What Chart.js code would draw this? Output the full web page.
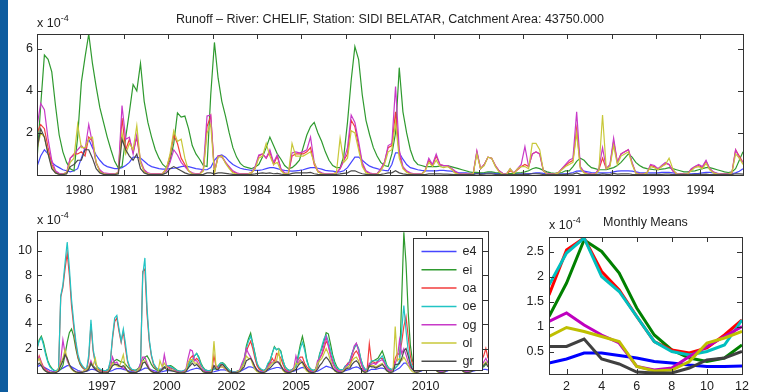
<!DOCTYPE html>
<html>
<head>
<meta charset="utf-8">
<script src="https://cdn.jsdelivr.net/npm/chart.js@4.4.0/dist/chart.umd.min.js"></script>
<style>
  body { margin: 0; background: #fff; width: 757px; height: 392px; overflow: hidden; position: relative;
         font-family: "Liberation Sans", Arial, sans-serif; color: #222; }
  .bar { position: absolute; left: 0; top: 0; width: 8px; height: 392px; background: #0d5c9f; }
  canvas { position: absolute; }
  .lbl { position: absolute; font-size: 12.5px; line-height: 14px; white-space: nowrap; }
  .lbl sup { font-size: 9px; vertical-align: 6px; line-height: 0; }
</style>
</head>
<body>
<div class="bar"></div>
<canvas id="topChart" width="757" height="200" style="left:0;top:0"></canvas>
<canvas id="histChart" width="500" height="197" style="left:0;top:195px"></canvas>
<canvas id="meanChart" width="257" height="197" style="left:500px;top:195px"></canvas>
<div class="lbl" style="left:0;width:780px;top:12px;text-align:center">Runoff &ndash; River: CHELIF, Station: SIDI BELATAR, Catchment Area: 43750.000</div>
<div class="lbl" style="left:37px;top:16px">x 10<sup>-4</sup></div>
<div class="lbl" style="left:37px;top:213px">x 10<sup>-4</sup></div>
<div class="lbl" style="left:549px;top:218px">x 10<sup>-4</sup></div>
<div class="lbl" style="left:545px;width:201px;top:215px;text-align:center">Monthly Means</div>
<script>
// series order as in the legend
const seriesNames = ['e4', 'ei', 'oa', 'oe', 'og', 'ol', 'gr'];
const seriesColors = ['#0000ff', '#008000', '#ff0000', '#00bfbf', '#bf00bf', '#bfbf00', '#404040'];
// thin time-series lines look a little paler in the original
const thinColors = ['#4646ff', '#2f9a2f', '#f23c3c', '#22c4c4', '#c83ac8', '#c8c83a', '#4a4a4a'];

// ---- top panel: monthly runoff 1979-1994 (x 1e-4), one row per year ----
const topFirstYear = 1979;
const topTickYears = [1980, 1981, 1982, 1983, 1984, 1985, 1986, 1987, 1988, 1989, 1990, 1991, 1992, 1993, 1994];
const topTickLabels = ['1980', '1981', '1982', '1983', '1984', '1985', '1986', '1987', '1988', '1989', '1990', '1991', '1992', '1993', '1994'];
const topYTicks = [2, 4, 6];

const top_e4 = [
  [0.4, 0.9, 1.2, 1.0, 0.6, 0.45, 0.35, 0.25, 0.2, 0.15, 0.2, 0.3],
  [0.8, 1.3, 1.7, 1.3, 0.95, 0.7, 0.5, 0.4, 0.35, 0.3, 0.3, 0.35],
  [0.45, 0.6, 0.85, 0.85, 0.8, 0.65, 0.5, 0.4, 0.35, 0.3, 0.28, 0.28],
  [0.3, 0.32, 0.35, 0.4, 0.42, 0.4, 0.35, 0.3, 0.28, 0.25, 0.25, 0.35],
  [0.7, 0.9, 0.95, 0.85, 0.65, 0.5, 0.4, 0.32, 0.28, 0.25, 0.22, 0.22],
  [0.22, 0.25, 0.3, 0.35, 0.35, 0.3, 0.25, 0.22, 0.2, 0.18, 0.2, 0.22],
  [0.25, 0.3, 0.35, 0.35, 0.32, 0.28, 0.22, 0.2, 0.18, 0.15, 0.15, 0.2],
  [0.35, 0.6, 0.85, 0.85, 0.7, 0.55, 0.42, 0.35, 0.3, 0.25, 0.22, 0.2],
  [0.5, 1.05, 1.05, 0.75, 0.5, 0.35, 0.3, 0.25, 0.22, 0.2, 0.2, 0.2],
  [0.2, 0.22, 0.22, 0.2, 0.18, 0.15, 0.12, 0.1, 0.1, 0.08, 0.08, 0.08],
  [0.08, 0.08, 0.1, 0.1, 0.08, 0.07, 0.06, 0.05, 0.05, 0.05, 0.05, 0.06],
  [0.06, 0.07, 0.08, 0.1, 0.1, 0.08, 0.06, 0.05, 0.05, 0.05, 0.05, 0.06],
  [0.08, 0.12, 0.18, 0.2, 0.18, 0.15, 0.12, 0.1, 0.1, 0.1, 0.1, 0.12],
  [0.15, 0.18, 0.2, 0.2, 0.2, 0.18, 0.15, 0.12, 0.1, 0.1, 0.1, 0.1],
  [0.1, 0.12, 0.12, 0.12, 0.1, 0.08, 0.07, 0.06, 0.06, 0.06, 0.07, 0.08],
  [0.1, 0.12, 0.12, 0.1, 0.08, 0.06, 0.05, 0.05, 0.06, 0.1, 0.18, 0.3]
];
const top_ei = [
  [0.7, 3.3, 5.7, 5.5, 4.9, 3.3, 1.9, 1.1, 0.6, 0.3, 0.2, 1.8],
  [4.4, 5.6, 6.7, 5.3, 4.2, 3.2, 2.5, 1.8, 1.2, 0.65, 0.33, 0.4],
  [1.8, 3.0, 4.3, 4.0, 5.3, 3.5, 2.5, 1.8, 1.2, 0.8, 0.5, 0.35],
  [0.7, 1.5, 2.95, 2.75, 2.8, 2.2, 1.4, 1.0, 0.75, 0.45, 0.4, 3.8],
  [6.3, 4.6, 3.5, 2.8, 2.0, 1.3, 0.85, 0.55, 0.4, 0.35, 0.3, 0.38],
  [0.5, 0.85, 1.3, 1.8, 1.4, 1.0, 0.75, 0.45, 0.3, 0.35, 0.5, 0.7],
  [1.3, 1.9, 2.3, 2.5, 2.0, 1.6, 1.1, 0.7, 0.45, 0.35, 0.35, 0.9],
  [2.5, 4.5, 6.1, 5.5, 3.8, 2.6, 1.9, 1.3, 0.9, 0.6, 0.45, 0.4],
  [1.0, 2.0, 5.1, 3.0, 2.0, 1.2, 0.7, 0.5, 0.45, 0.4, 0.4, 0.4],
  [0.4, 0.42, 0.45, 0.45, 0.4, 0.35, 0.3, 0.25, 0.2, 0.15, 0.12, 0.12],
  [0.1, 0.12, 0.15, 0.15, 0.12, 0.1, 0.08, 0.07, 0.07, 0.08, 0.1, 0.12],
  [0.15, 0.2, 0.3, 0.35, 0.3, 0.22, 0.15, 0.1, 0.08, 0.1, 0.12, 0.2],
  [0.2, 0.4, 0.65, 0.8, 0.7, 0.5, 0.35, 0.3, 0.25, 0.25, 0.25, 0.3],
  [0.35, 0.45, 0.6, 0.8, 1.0, 0.85, 0.6, 0.45, 0.35, 0.3, 0.28, 0.25],
  [0.25, 0.28, 0.3, 0.35, 0.3, 0.25, 0.2, 0.15, 0.15, 0.18, 0.2, 0.25],
  [0.3, 0.35, 0.35, 0.3, 0.25, 0.2, 0.15, 0.12, 0.15, 0.3, 0.7, 1.1]
];
const top_oa = [
  [2.0, 2.4, 2.2, 1.3, 0.5, 0.15, 0.05, 0.05, 0.1, 0.8, 1.0, 1.0],
  [1.1, 0.9, 1.8, 1.6, 0.6, 0.2, 0.08, 0.05, 0.05, 0.05, 0.1, 2.7],
  [1.2, 1.7, 1.1, 1.8, 0.6, 0.2, 0.08, 0.05, 0.05, 0.05, 0.08, 0.3],
  [0.9, 1.9, 1.5, 0.8, 0.5, 0.2, 0.08, 0.05, 0.05, 0.2, 2.3, 2.8],
  [0.1, 0.9, 0.9, 0.6, 0.35, 0.15, 0.08, 0.05, 0.05, 0.05, 0.1, 0.3],
  [0.9, 1.0, 0.8, 1.1, 0.5, 0.9, 0.25, 0.08, 0.06, 0.9, 1.0, 1.0],
  [1.0, 1.1, 1.3, 0.5, 0.15, 0.08, 0.05, 0.04, 0.05, 0.1, 0.3, 0.7],
  [1.0, 2.6, 2.3, 1.4, 0.5, 0.15, 0.08, 0.05, 0.05, 0.25, 0.6, 1.3],
  [1.4, 3.0, 1.0, 0.35, 0.15, 0.08, 0.05, 0.04, 0.04, 0.2, 0.7, 0.45],
  [0.9, 0.5, 0.45, 0.45, 0.3, 0.15, 0.06, 0.04, 0.04, 0.04, 0.05, 1.1],
  [0.3, 0.5, 0.85, 0.8, 0.45, 0.2, 0.06, 0.04, 0.2, 0.1, 0.25, 0.4],
  [0.5, 0.4, 1.0, 1.1, 1.0, 0.2, 0.06, 0.04, 0.04, 0.1, 0.3, 0.45],
  [0.6, 0.7, 2.2, 0.35, 0.12, 0.06, 0.04, 0.04, 0.25, 0.8, 0.3, 0.45],
  [1.6, 0.6, 1.0, 1.1, 1.2, 0.55, 0.1, 0.04, 0.04, 0.1, 0.45, 0.4],
  [0.3, 0.4, 0.55, 0.5, 0.2, 0.06, 0.04, 0.04, 0.05, 0.25, 0.4, 0.45],
  [0.35, 0.65, 0.3, 0.12, 0.06, 0.04, 0.04, 0.04, 0.1, 1.2, 0.9, 0.6]
];
const top_og = [
  [2.3, 3.4, 3.1, 1.7, 0.7, 0.2, 0.08, 0.05, 0.1, 0.8, 0.95, 1.2],
  [1.4, 1.2, 2.4, 1.5, 0.55, 0.25, 0.1, 0.08, 0.06, 0.06, 0.1, 3.3],
  [1.7, 1.8, 1.0, 1.9, 0.7, 0.25, 0.1, 0.06, 0.05, 0.05, 0.08, 0.2],
  [0.6, 1.2, 0.95, 0.6, 0.4, 0.2, 0.1, 0.05, 0.05, 0.3, 2.8, 2.85],
  [0.2, 0.9, 0.85, 0.6, 0.4, 0.2, 0.1, 0.05, 0.05, 0.05, 0.1, 0.4],
  [0.95, 1.0, 0.8, 1.2, 0.6, 0.95, 0.3, 0.1, 0.08, 1.05, 1.1, 1.05],
  [1.1, 1.2, 1.8, 0.6, 0.2, 0.1, 0.06, 0.05, 0.05, 0.1, 0.3, 0.7],
  [1.3, 2.85, 2.5, 1.6, 0.6, 0.2, 0.1, 0.06, 0.05, 0.3, 0.6, 1.4],
  [1.5, 4.2, 1.2, 0.4, 0.2, 0.1, 0.06, 0.05, 0.05, 0.2, 0.8, 0.5],
  [1.0, 0.5, 0.45, 0.45, 0.35, 0.2, 0.08, 0.05, 0.04, 0.04, 0.05, 1.15],
  [0.3, 0.5, 0.85, 0.8, 0.45, 0.2, 0.08, 0.05, 0.3, 0.1, 0.3, 0.5],
  [1.35, 0.4, 1.0, 1.1, 1.0, 0.2, 0.08, 0.05, 0.04, 0.1, 0.3, 0.5],
  [0.7, 0.8, 3.0, 0.4, 0.15, 0.08, 0.05, 0.04, 0.3, 1.3, 0.3, 0.5],
  [1.75, 0.6, 1.0, 1.1, 1.2, 0.6, 0.1, 0.05, 0.04, 0.1, 0.5, 0.45],
  [0.3, 0.45, 0.6, 0.5, 0.2, 0.08, 0.05, 0.04, 0.05, 0.3, 0.4, 0.5],
  [0.4, 0.7, 0.3, 0.15, 0.08, 0.05, 0.04, 0.04, 0.1, 1.2, 0.8, 0.6]
];
const top_ol = [
  [1.2, 2.0, 1.8, 1.0, 0.4, 0.1, 0.03, 0.03, 0.1, 0.6, 0.8, 2.4],
  [1.3, 1.3, 1.7, 1.8, 0.6, 0.15, 0.05, 0.03, 0.03, 0.03, 0.1, 2.0],
  [1.0, 1.5, 1.2, 2.35, 0.6, 0.15, 0.05, 0.03, 0.03, 0.03, 0.05, 0.3],
  [1.0, 2.1, 1.6, 1.7, 0.8, 0.2, 0.05, 0.03, 0.03, 0.2, 2.0, 2.4],
  [0.1, 0.85, 0.9, 0.55, 0.3, 0.1, 0.04, 0.03, 0.03, 0.03, 0.1, 0.3],
  [0.8, 0.9, 1.5, 0.9, 0.5, 0.6, 0.2, 0.05, 0.05, 1.5, 0.9, 0.9],
  [0.9, 1.0, 1.1, 0.6, 0.15, 0.05, 0.03, 0.03, 0.03, 0.1, 1.75, 0.6],
  [0.8, 2.1, 2.0, 1.2, 0.4, 0.1, 0.04, 0.03, 0.03, 0.2, 0.5, 1.1],
  [1.2, 2.5, 0.8, 0.3, 0.12, 0.05, 0.03, 0.03, 0.03, 0.2, 0.6, 0.4],
  [0.7, 0.4, 0.35, 0.4, 0.3, 0.1, 0.04, 0.03, 0.03, 0.03, 0.05, 1.0],
  [0.3, 0.45, 0.85, 0.8, 0.4, 0.15, 0.04, 0.03, 0.3, 0.05, 0.3, 0.4],
  [0.4, 0.3, 1.5, 1.5, 1.2, 0.2, 0.04, 0.03, 0.03, 0.1, 0.25, 0.4],
  [0.5, 0.6, 2.0, 0.3, 0.1, 0.04, 0.03, 0.03, 0.2, 2.85, 0.3, 0.4],
  [1.4, 0.5, 0.9, 1.0, 1.1, 0.5, 0.08, 0.03, 0.03, 0.1, 0.4, 0.35],
  [0.25, 0.4, 0.5, 0.8, 0.3, 0.05, 0.03, 0.03, 0.05, 0.2, 0.35, 0.4],
  [0.3, 0.55, 0.25, 0.1, 0.05, 0.03, 0.03, 0.03, 0.1, 1.0, 0.8, 0.5]
];
const top_gr = [
  [1.2, 2.2, 1.8, 1.0, 0.3, 0.1, 0.03, 0.02, 0.05, 0.4, 0.5, 0.7],
  [0.7, 1.2, 1.2, 0.8, 0.3, 0.1, 0.03, 0.02, 0.02, 0.02, 0.05, 1.7],
  [1.2, 0.9, 0.7, 1.0, 0.3, 0.1, 0.03, 0.02, 0.02, 0.02, 0.03, 0.1],
  [0.3, 0.4, 0.3, 0.2, 0.1, 0.04, 0.02, 0.02, 0.02, 0.03, 0.1, 0.1],
  [0.05, 0.1, 0.1, 0.08, 0.05, 0.03, 0.02, 0.02, 0.02, 0.02, 0.03, 0.05],
  [0.08, 0.1, 0.08, 0.1, 0.06, 0.08, 0.04, 0.02, 0.02, 0.08, 0.1, 0.1],
  [0.1, 0.1, 0.12, 0.06, 0.03, 0.02, 0.02, 0.02, 0.02, 0.03, 0.05, 0.08],
  [0.1, 0.2, 0.2, 0.12, 0.06, 0.03, 0.02, 0.02, 0.02, 0.03, 0.06, 0.1],
  [0.1, 0.2, 0.1, 0.05, 0.03, 0.02, 0.02, 0.02, 0.02, 0.02, 0.05, 0.05],
  [0.06, 0.05, 0.04, 0.04, 0.03, 0.02, 0.02, 0.02, 0.02, 0.02, 0.02, 0.06],
  [0.03, 0.04, 0.06, 0.05, 0.03, 0.02, 0.02, 0.02, 0.02, 0.02, 0.02, 0.03],
  [0.04, 0.03, 0.06, 0.06, 0.05, 0.02, 0.02, 0.02, 0.02, 0.02, 0.02, 0.03],
  [0.04, 0.04, 0.1, 0.03, 0.02, 0.02, 0.02, 0.02, 0.02, 0.05, 0.03, 0.03],
  [0.08, 0.04, 0.05, 0.05, 0.06, 0.03, 0.02, 0.02, 0.02, 0.02, 0.03, 0.03],
  [0.03, 0.03, 0.04, 0.04, 0.02, 0.02, 0.02, 0.02, 0.02, 0.02, 0.03, 0.03],
  [0.03, 0.04, 0.02, 0.02, 0.02, 0.02, 0.02, 0.02, 0.02, 0.06, 0.05, 0.04]
];

// ---- bottom-left panel: monthly runoff 1995-2012 (x 1e-4) ----
const botFirstYear = 1995;
const botTickPos = [1997.55, 2000.05, 2002.55, 2005.05, 2007.55, 2010.05];
const botTickLabels = ['1997', '2000', '2002', '2005', '2007', '2010'];
const botYTicks = [2, 4, 6, 8, 10];

const bot_e4 = [
  [0.5, 0.6, 0.6, 0.5, 0.4, 0.3, 0.2, 0.15, 0.12, 0.12, 0.15, 0.3],
  [0.4, 0.5, 0.6, 0.6, 0.5, 0.4, 0.3, 0.2, 0.15, 0.12, 0.12, 0.15],
  [0.2, 0.3, 0.3, 0.25, 0.2, 0.15, 0.1, 0.08, 0.08, 0.1, 0.15, 0.2],
  [0.3, 0.35, 0.35, 0.35, 0.3, 0.25, 0.2, 0.15, 0.1, 0.1, 0.1, 0.12],
  [0.2, 0.3, 0.4, 0.4, 0.35, 0.25, 0.2, 0.15, 0.1, 0.1, 0.12, 0.15],
  [0.2, 0.2, 0.2, 0.2, 0.15, 0.12, 0.1, 0.08, 0.08, 0.1, 0.15, 0.25],
  [0.3, 0.35, 0.4, 0.35, 0.3, 0.2, 0.15, 0.1, 0.08, 0.08, 0.1, 0.15],
  [0.2, 0.25, 0.25, 0.25, 0.2, 0.15, 0.1, 0.08, 0.08, 0.1, 0.12, 0.2],
  [0.3, 0.4, 0.5, 0.5, 0.45, 0.35, 0.25, 0.15, 0.12, 0.1, 0.12, 0.2],
  [0.3, 0.35, 0.4, 0.45, 0.45, 0.4, 0.3, 0.2, 0.15, 0.12, 0.12, 0.15],
  [0.2, 0.3, 0.4, 0.45, 0.4, 0.3, 0.2, 0.15, 0.12, 0.12, 0.15, 0.25],
  [0.35, 0.45, 0.55, 0.5, 0.45, 0.35, 0.25, 0.15, 0.12, 0.1, 0.12, 0.2],
  [0.25, 0.3, 0.4, 0.45, 0.5, 0.45, 0.3, 0.2, 0.15, 0.12, 0.2, 0.3],
  [0.3, 0.3, 0.35, 0.4, 0.4, 0.35, 0.25, 0.15, 0.12, 0.12, 0.2, 0.3],
  [0.4, 0.6, 0.8, 0.8, 0.6, 0.45, 0.3, 0.2, 0.15, 0.12, 0.15, 0.25],
  [0.3, 0.4, 0.45, 0.4, 0.35, 0.25, 0.15, 0.12, 0.1, 0.1, 0.15, 0.25],
  [0.3, 0.35, 0.4, 0.35, 0.3, 0.2, 0.15, 0.1, 0.1, 0.1, 0.15, 0.2],
  [0.25, 0.3, 0.3, 0.3, 0.3, 0.25]
];
const bot_ei = [
  [2.0, 2.7, 3.0, 2.5, 1.7, 1.0, 0.6, 0.35, 0.2, 0.15, 0.2, 0.3],
  [0.6, 1.5, 2.5, 3.3, 3.6, 3.0, 2.0, 1.2, 0.7, 0.45, 0.3, 0.25],
  [0.4, 0.7, 0.6, 0.4, 0.3, 0.2, 0.15, 0.15, 0.2, 0.3, 0.5, 0.8],
  [1.0, 1.1, 1.0, 0.9, 0.9, 0.7, 0.5, 0.3, 0.2, 0.2, 0.25, 0.4],
  [0.6, 1.0, 1.3, 1.4, 1.1, 0.7, 0.45, 0.3, 0.2, 0.2, 0.25, 0.4],
  [0.5, 0.6, 0.6, 0.5, 0.35, 0.2, 0.15, 0.12, 0.15, 0.25, 0.4, 0.8],
  [1.0, 1.4, 1.6, 1.3, 0.8, 0.45, 0.25, 0.2, 0.2, 0.25, 0.3, 0.45],
  [0.6, 0.8, 0.85, 0.7, 0.45, 0.25, 0.15, 0.1, 0.1, 0.15, 0.2, 0.5],
  [1.0, 2.2, 2.8, 3.25, 2.4, 1.6, 0.7, 0.35, 0.25, 0.2, 0.3, 0.7],
  [1.0, 1.6, 2.15, 1.9, 2.0, 1.8, 1.0, 0.5, 0.3, 0.2, 0.25, 0.4],
  [0.6, 1.4, 2.3, 3.0, 2.2, 1.1, 0.5, 0.3, 0.2, 0.3, 0.7, 1.6],
  [2.0, 2.6, 3.3, 3.2, 2.4, 1.5, 0.9, 0.5, 0.3, 0.25, 0.3, 0.6],
  [0.7, 1.0, 1.6, 2.0, 2.4, 2.0, 1.2, 0.6, 0.3, 0.3, 0.5, 0.9],
  [1.0, 1.1, 1.2, 1.5, 1.8, 1.3, 0.7, 0.4, 0.3, 0.3, 0.4, 0.6],
  [0.8, 6.0, 11.5, 9.0, 5.0, 2.3, 1.0, 0.6, 0.4, 0.35, 0.4, 0.6],
  [1.0, 1.5, 1.8, 1.5, 1.0, 0.6, 0.35, 0.25, 0.2, 0.3, 0.5, 0.8],
  [1.2, 1.5, 1.6, 1.3, 0.8, 0.5, 0.3, 0.2, 0.2, 0.3, 0.4, 0.6],
  [0.8, 0.9, 0.6, 0.5, 0.7, 1.0]
];
const bot_oa = [
  [0.8, 1.4, 0.9, 0.5, 0.3, 0.15, 0.08, 0.05, 0.05, 0.1, 0.3, 6.2],
  [7.0, 8.5, 9.8, 8.0, 5.5, 3.8, 2.3, 1.3, 0.8, 0.5, 0.3, 0.25],
  [1.2, 4.0, 1.8, 0.8, 0.4, 0.25, 0.15, 0.1, 0.1, 0.2, 0.9, 2.8],
  [4.2, 4.5, 3.4, 2.5, 3.4, 2.0, 0.9, 0.4, 0.25, 0.2, 0.2, 0.3],
  [0.7, 8.3, 8.5, 4.8, 2.6, 1.4, 0.7, 0.4, 0.3, 0.3, 0.3, 0.45],
  [0.5, 0.5, 0.4, 0.35, 0.25, 0.15, 0.1, 0.1, 0.15, 0.3, 0.6, 1.2],
  [1.4, 1.0, 1.2, 1.0, 0.6, 0.35, 0.2, 0.15, 0.15, 0.2, 1.4, 0.5],
  [0.5, 0.7, 0.7, 0.5, 0.35, 0.2, 0.12, 0.08, 0.08, 0.12, 0.2, 0.4],
  [0.9, 1.8, 2.2, 2.6, 2.0, 1.2, 0.6, 0.3, 0.2, 0.15, 0.25, 0.6],
  [0.8, 1.2, 0.9, 1.6, 1.5, 1.2, 0.7, 0.3, 0.2, 0.15, 0.2, 0.35],
  [0.5, 1.1, 1.3, 1.3, 0.8, 0.5, 0.3, 0.2, 0.15, 0.2, 0.5, 1.2],
  [1.5, 2.0, 2.6, 2.3, 1.6, 1.0, 0.6, 0.3, 0.2, 0.15, 0.2, 0.5],
  [0.8, 0.6, 1.2, 1.6, 1.8, 1.5, 0.9, 0.4, 0.2, 0.3, 2.4, 0.9],
  [0.9, 0.8, 1.0, 1.2, 1.2, 0.9, 0.5, 0.3, 0.2, 0.3, 1.2, 1.6],
  [1.5, 2.5, 3.8, 4.6, 3.0, 1.4, 0.7, 0.4, 0.3, 0.3, 0.4, 0.7],
  [1.0, 1.4, 1.6, 1.3, 0.9, 0.5, 0.3, 0.2, 0.2, 0.3, 0.6, 1.0],
  [1.2, 1.4, 1.5, 1.2, 0.8, 0.4, 0.25, 0.2, 0.2, 0.3, 0.5, 0.8],
  [1.0, 1.2, 1.0, 1.4, 2.0, 1.2]
];
const bot_oe = [
  [2.0, 2.6, 2.9, 2.3, 1.5, 0.9, 0.5, 0.3, 0.2, 0.2, 0.4, 6.3],
  [7.2, 9.0, 10.7, 8.6, 6.0, 4.2, 2.6, 1.5, 0.9, 0.6, 0.4, 0.3],
  [1.5, 4.35, 2.0, 0.9, 0.5, 0.35, 0.25, 0.2, 0.2, 0.3, 1.0, 3.0],
  [4.5, 4.7, 3.6, 2.6, 3.6, 2.4, 1.0, 0.5, 0.3, 0.25, 0.2, 0.3],
  [0.8, 8.0, 9.4, 5.3, 2.8, 1.5, 0.8, 0.5, 0.3, 0.3, 0.35, 0.5],
  [0.6, 0.6, 0.5, 0.4, 0.3, 0.2, 0.15, 0.15, 0.2, 0.3, 0.5, 1.0],
  [1.0, 1.4, 1.6, 1.2, 0.7, 0.4, 0.25, 0.2, 0.2, 0.25, 0.3, 0.4],
  [0.5, 0.8, 0.8, 0.6, 0.4, 0.25, 0.15, 0.1, 0.1, 0.15, 0.2, 0.5],
  [1.0, 2.0, 2.6, 3.0, 2.4, 1.5, 0.8, 0.45, 0.3, 0.2, 0.3, 0.8],
  [1.0, 1.6, 2.1, 1.9, 2.0, 1.7, 1.0, 0.5, 0.3, 0.2, 0.25, 0.4],
  [0.5, 1.2, 2.0, 2.5, 1.9, 1.0, 0.5, 0.3, 0.2, 0.3, 0.6, 1.5],
  [2.2, 2.8, 3.1, 2.6, 1.9, 1.3, 0.7, 0.4, 0.3, 0.25, 0.3, 0.6],
  [0.6, 1.0, 1.6, 2.1, 2.3, 2.0, 1.2, 0.6, 0.3, 0.3, 0.6, 1.0],
  [1.0, 1.0, 1.0, 1.2, 1.4, 1.0, 0.6, 0.4, 0.3, 0.3, 0.4, 0.6],
  [1.0, 3.5, 5.5, 3.5, 1.8, 0.9, 0.5, 0.4, 0.3, 0.3, 0.4, 0.6],
  [0.8, 1.2, 1.5, 1.2, 0.8, 0.5, 0.3, 0.2, 0.2, 0.3, 0.5, 0.8],
  [1.0, 1.2, 1.4, 1.1, 0.7, 0.4, 0.3, 0.2, 0.2, 0.3, 0.4, 0.6],
  [0.8, 0.9, 0.7, 0.6, 0.8, 0.9]
];
const bot_og = [
  [1.0, 1.3, 0.8, 0.4, 0.2, 0.1, 0.05, 0.05, 0.05, 0.1, 0.2, 1.0],
  [2.7, 1.6, 1.0, 0.6, 0.35, 0.2, 0.1, 0.08, 0.08, 0.1, 0.2, 0.3],
  [0.5, 1.0, 0.5, 0.3, 0.15, 0.08, 0.05, 0.05, 0.05, 0.1, 0.4, 1.3],
  [0.8, 0.9, 0.6, 0.5, 0.4, 0.3, 0.15, 0.08, 0.05, 0.05, 0.1, 0.3],
  [0.8, 1.3, 1.3, 0.8, 0.4, 0.2, 0.1, 0.05, 0.05, 0.1, 0.3, 1.5],
  [0.6, 0.4, 0.3, 0.2, 0.15, 0.1, 0.05, 0.05, 0.1, 0.3, 1.2, 1.9],
  [1.8, 1.0, 1.0, 0.7, 0.4, 0.2, 0.1, 0.05, 0.05, 0.1, 0.6, 0.5],
  [0.4, 0.5, 0.5, 0.35, 0.2, 0.1, 0.05, 0.05, 0.05, 0.1, 0.3, 0.8],
  [1.2, 2.0, 1.6, 1.3, 0.9, 0.5, 0.25, 0.1, 0.08, 0.08, 0.2, 0.5],
  [0.7, 0.9, 0.9, 1.0, 0.8, 0.6, 0.3, 0.15, 0.1, 0.1, 0.2, 0.4],
  [1.4, 0.8, 1.1, 0.9, 0.5, 0.3, 0.15, 0.1, 0.1, 0.2, 1.0, 1.2],
  [1.6, 2.3, 2.98, 2.2, 1.4, 0.8, 0.4, 0.2, 0.1, 0.1, 0.2, 0.5],
  [0.7, 0.9, 1.5, 2.2, 2.44, 1.8, 0.9, 0.4, 0.15, 0.2, 0.8, 0.7],
  [0.8, 0.7, 0.9, 1.0, 1.1, 0.8, 0.4, 0.2, 0.15, 0.3, 0.8, 1.2],
  [2.7, 1.6, 2.0, 1.5, 0.9, 0.5, 0.3, 0.2, 0.15, 0.2, 0.3, 0.6],
  [0.8, 1.0, 1.2, 1.0, 0.6, 0.3, 0.2, 0.1, 0.1, 0.2, 0.4, 0.7],
  [0.9, 1.0, 1.1, 0.9, 0.5, 0.3, 0.15, 0.1, 0.1, 0.2, 0.4, 0.6],
  [0.7, 0.8, 0.6, 0.9, 1.2, 0.8]
];
const bot_ol = [
  [0.9, 1.2, 0.7, 0.3, 0.15, 0.05, 0.03, 0.03, 0.03, 0.1, 0.3, 0.8],
  [1.2, 1.9, 1.2, 0.6, 0.3, 0.15, 0.05, 0.03, 0.03, 0.1, 0.2, 0.3],
  [0.5, 0.8, 0.6, 1.2, 0.3, 0.08, 0.03, 0.03, 0.03, 0.1, 0.4, 0.8],
  [0.7, 0.6, 0.5, 0.9, 1.5, 0.4, 0.1, 0.03, 0.03, 0.05, 0.1, 0.3],
  [0.5, 1.0, 1.0, 0.6, 0.3, 0.1, 0.04, 0.03, 0.03, 1.0, 0.5, 0.8],
  [0.5, 0.3, 0.25, 0.2, 0.1, 0.05, 0.03, 0.03, 0.05, 0.2, 0.9, 1.1],
  [1.1, 0.8, 0.8, 0.6, 0.3, 0.1, 0.04, 0.03, 0.03, 0.1, 2.6, 0.4],
  [0.3, 0.5, 0.5, 0.4, 0.2, 0.08, 0.03, 0.03, 0.03, 0.1, 0.2, 0.5],
  [0.8, 1.4, 1.2, 1.2, 0.7, 0.3, 0.1, 0.04, 0.03, 0.05, 0.2, 0.4],
  [0.6, 0.8, 0.9, 1.0, 1.8, 0.6, 0.2, 0.05, 0.03, 0.05, 0.15, 0.3],
  [0.8, 0.7, 1.0, 0.8, 0.4, 0.15, 0.05, 0.03, 0.03, 0.2, 0.8, 1.0],
  [1.2, 1.6, 2.0, 1.6, 1.0, 0.5, 0.15, 0.05, 0.03, 0.05, 0.2, 0.4],
  [0.5, 0.6, 1.0, 1.2, 1.3, 1.0, 0.4, 0.1, 0.05, 0.2, 0.6, 0.6],
  [0.6, 0.5, 0.6, 0.7, 0.8, 0.5, 0.2, 0.05, 0.05, 0.2, 3.8, 1.0],
  [1.2, 1.0, 1.3, 1.0, 0.6, 0.3, 0.1, 0.05, 0.05, 0.1, 0.3, 0.5],
  [0.7, 0.8, 0.9, 0.7, 0.4, 0.2, 0.05, 0.03, 0.03, 0.1, 0.3, 0.6],
  [0.8, 0.9, 0.9, 0.7, 0.4, 0.2, 0.05, 0.03, 0.03, 0.1, 0.3, 0.5],
  [0.6, 0.6, 0.5, 0.7, 0.9, 0.6]
];
const bot_gr = [
  [0.6, 0.8, 0.6, 0.3, 0.15, 0.05, 0.03, 0.02, 0.02, 0.05, 0.15, 0.6],
  [1.0, 1.5, 1.2, 0.7, 0.4, 0.2, 0.1, 0.05, 0.05, 0.05, 0.1, 0.15],
  [0.3, 0.8, 0.5, 0.3, 0.15, 0.05, 0.03, 0.02, 0.02, 0.05, 0.3, 0.6],
  [0.7, 0.7, 0.6, 0.5, 0.6, 0.4, 0.15, 0.05, 0.03, 0.03, 0.05, 0.15],
  [0.3, 0.8, 0.9, 0.6, 0.3, 0.15, 0.05, 0.03, 0.03, 0.1, 0.3, 0.5],
  [0.3, 0.25, 0.2, 0.15, 0.1, 0.05, 0.03, 0.02, 0.03, 0.1, 0.4, 0.6],
  [0.8, 0.6, 0.7, 0.5, 0.3, 0.1, 0.05, 0.03, 0.03, 0.05, 0.6, 0.3],
  [0.3, 0.6, 0.7, 0.5, 0.3, 0.1, 0.05, 0.03, 0.03, 0.05, 0.1, 0.3],
  [0.5, 1.0, 1.1, 1.2, 0.9, 0.5, 0.2, 0.08, 0.04, 0.04, 0.1, 0.3],
  [0.4, 0.6, 0.8, 0.9, 0.9, 0.6, 0.3, 0.1, 0.05, 0.04, 0.1, 0.2],
  [0.3, 0.6, 0.8, 0.9, 0.6, 0.3, 0.1, 0.05, 0.04, 0.1, 0.3, 0.6],
  [0.8, 1.1, 1.3, 1.1, 0.8, 0.4, 0.2, 0.08, 0.04, 0.04, 0.1, 0.3],
  [0.4, 0.4, 0.7, 0.9, 1.0, 0.8, 0.4, 0.15, 0.05, 0.1, 0.6, 0.5],
  [0.5, 0.4, 0.5, 0.6, 0.7, 0.5, 0.2, 0.08, 0.05, 0.1, 0.7, 0.7],
  [0.8, 1.2, 1.8, 2.0, 1.4, 0.7, 0.3, 0.1, 0.05, 0.1, 0.2, 0.4],
  [0.5, 0.7, 0.8, 0.6, 0.4, 0.2, 0.08, 0.04, 0.04, 0.1, 0.3, 0.5],
  [0.6, 0.7, 0.7, 0.6, 0.4, 0.2, 0.08, 0.04, 0.04, 0.1, 0.2, 0.4],
  [0.5, 0.6, 0.5, 0.6, 0.8, 0.5]
];

// ---- bottom-right panel: monthly means (x 1e-4) ----
const months = [1, 2, 3, 4, 5, 6, 7, 8, 9, 10, 11, 12];
const meanXTicks = [2, 4, 6, 8, 10, 12];
const meanYTicks = [0.5, 1, 1.5, 2, 2.5];
const mean_e4 = [0.27, 0.35, 0.47, 0.47, 0.42, 0.37, 0.3, 0.27, 0.23, 0.2, 0.2, 0.21];
const mean_ei = [1.2, 1.87, 2.73, 2.5, 2.07, 1.37, 0.83, 0.53, 0.37, 0.3, 0.37, 0.63];
const mean_oa = [1.63, 2.53, 2.77, 2.1, 1.73, 1.2, 0.7, 0.53, 0.47, 0.57, 0.83, 1.13];
const mean_oe = [1.83, 2.47, 2.77, 2.0, 1.7, 1.2, 0.7, 0.5, 0.43, 0.5, 0.63, 1.13];
const mean_og = [1.1, 1.27, 1.03, 0.83, 0.67, 0.2, 0.13, 0.17, 0.4, 0.6, 0.8, 1.0];
const mean_ol = [0.8, 0.98, 0.9, 0.8, 0.7, 0.2, 0.11, 0.13, 0.3, 0.67, 0.77, 0.9];
const mean_gr = [0.6, 0.6, 0.75, 0.35, 0.25, 0.09, 0.07, 0.07, 0.17, 0.33, 0.37, 0.5];

const labelFont = { family: 'Liberation Sans, Arial, sans-serif', size: 12.5 };
const textColor = '#222';

// month rows -> {x: decimal year, y}
function toPoints(firstYear, rows) {
  const pts = [];
  rows.forEach((row, k) => row.forEach((v, m) => pts.push({ x: firstYear + k + (m + 0.5) / 12, y: v })));
  return pts;
}

function lineSet(name, data, width, palette) {
  const idx = seriesNames.indexOf(name);
  return {
    label: name,
    data: data,
    borderColor: palette[idx],
    borderWidth: width,
    pointRadius: 0,
    tension: 0,
    fill: false,
    order: seriesNames.length - 1 - idx
  };
}

// box round the plot and inward tick marks on all four sides
const matlabAxes = {
  id: 'matlabAxes',
  afterDatasetsDraw(chart) {
    const { ctx, chartArea: a, scales } = chart;
    const len = 5;
    ctx.save();
    ctx.strokeStyle = '#333';
    ctx.lineWidth = 1;
    ctx.beginPath();
    scales.x.ticks.forEach(t => {
      const px = Math.round(scales.x.getPixelForValue(t.value)) + 0.5;
      ctx.moveTo(px, a.bottom); ctx.lineTo(px, a.bottom - len);
      ctx.moveTo(px, a.top); ctx.lineTo(px, a.top + len);
    });
    scales.y.ticks.forEach(t => {
      const py = Math.round(scales.y.getPixelForValue(t.value)) + 0.5;
      ctx.moveTo(a.left, py); ctx.lineTo(a.left + len, py);
      ctx.moveTo(a.right, py); ctx.lineTo(a.right - len, py);
    });
    ctx.stroke();
    ctx.strokeRect(Math.round(a.left) + 0.5, Math.round(a.top) + 0.5,
                   Math.round(a.right - a.left), Math.round(a.bottom - a.top));
    ctx.restore();
  }
};

// legend box inside the upper right corner of the plot
const boxLegend = {
  id: 'boxLegend',
  afterDraw(chart) {
    const { ctx, chartArea: a } = chart;
    const sets = chart.data.datasets;
    const w = 69, h = 132;
    const x0 = Math.round(a.right - 6 - w) + 0.5;
    const y0 = Math.round(a.top + 7) + 0.5;
    ctx.save();
    ctx.fillStyle = '#fff';
    ctx.fillRect(x0, y0, w, h);
    ctx.strokeStyle = '#333';
    ctx.lineWidth = 1;
    ctx.strokeRect(x0, y0, w, h);
    ctx.font = '12.5px "Liberation Sans", Arial, sans-serif';
    ctx.textBaseline = 'middle';
    ctx.textAlign = 'left';
    sets.forEach((ds, k) => {
      const y = y0 + 13 + k * 18.3;
      ctx.strokeStyle = ds.borderColor;
      ctx.lineWidth = 1.5;
      ctx.beginPath();
      ctx.moveTo(x0 + 8, y); ctx.lineTo(x0 + 43, y);
      ctx.stroke();
      ctx.fillStyle = textColor;
      ctx.fillText(ds.label, x0 + 49, y + 0.5);
    });
    ctx.restore();
  }
};

function axisCfg(extra) {
  return Object.assign({
    type: 'linear',
    bounds: 'data',
    grid: { display: false, drawTicks: false },
    border: { display: false }
  }, extra);
}

function makeChart(id, datasets, opt) {
  return new Chart(document.getElementById(id), {
    type: 'line',
    data: { datasets: datasets },
    options: {
      responsive: false,
      animation: false,
      devicePixelRatio: 1,
      layout: { padding: opt.padding },
      plugins: { legend: { display: false }, tooltip: { enabled: false } },
      scales: {
        x: axisCfg({
          min: opt.xMin, max: opt.xMax,
          afterBuildTicks: s => { s.ticks = opt.xTicks.map(v => ({ value: v })); },
          afterFit: s => { s.height = opt.xHeight; },
          ticks: { autoSkip: false, maxRotation: 0, minRotation: 0, padding: opt.xPad,
                   font: labelFont, color: textColor, callback: opt.xLabel }
        }),
        y: axisCfg({
          min: opt.yMin, max: opt.yMax,
          afterBuildTicks: s => { s.ticks = opt.yTicks.map(v => ({ value: v })); },
          afterFit: s => { s.width = opt.yWidth; },
          ticks: { padding: opt.yPad, font: labelFont, color: textColor, callback: v => String(v) }
        })
      }
    },
    plugins: opt.legend ? [matlabAxes, boxLegend] : [matlabAxes]
  });
}

// top panel
const topRows = { e4: top_e4, ei: top_ei, oa: top_oa, og: top_og, ol: top_ol, gr: top_gr };
const topSets = seriesNames.filter(n => topRows[n]).map(n => lineSet(n, toPoints(topFirstYear, topRows[n]), 1.2, thinColors));
const topPts = topSets[0].data;
makeChart('topChart', topSets, {
  padding: { left: 0, top: 34, right: 14, bottom: 0 },
  xMin: topPts[0].x, xMax: topPts[topPts.length - 1].x, xTicks: topTickYears, xHeight: 25, xPad: 8,
  xLabel: (v, i) => topTickLabels[i],
  yMin: 0, yMax: 6.7, yTicks: topYTicks, yWidth: 37, yPad: 4
});

// bottom-left panel
const botRows = { e4: bot_e4, ei: bot_ei, oa: bot_oa, oe: bot_oe, og: bot_og, ol: bot_ol, gr: bot_gr };
const botSets = seriesNames.map(n => lineSet(n, toPoints(botFirstYear, botRows[n]), 1.2, thinColors));
const botPts = botSets[0].data;
makeChart('histChart', botSets, {
  padding: { left: 0, top: 36, right: 12, bottom: 0 },
  xMin: botPts[0].x, xMax: botPts[botPts.length - 1].x, xTicks: botTickPos, xHeight: 19, xPad: 6,
  xLabel: (v, i) => botTickLabels[i],
  yMin: 0, yMax: 11.6, yTicks: botYTicks, yWidth: 37, yPad: 5,
  legend: true
});

// bottom-right panel
const meanRows = { e4: mean_e4, ei: mean_ei, oa: mean_oa, oe: mean_oe, og: mean_og, ol: mean_ol, gr: mean_gr };
const meanSets = seriesNames.map(n => lineSet(n, months.map((m, k) => ({ x: m, y: meanRows[n][k] })), 3, seriesColors));
makeChart('meanChart', meanSets, {
  padding: { left: 0, top: 42, right: 15, bottom: 0 },
  xMin: 1, xMax: 12, xTicks: meanXTicks, xHeight: 18, xPad: 5,
  xLabel: v => String(v),
  yMin: 0.05, yMax: 2.79, yTicks: meanYTicks, yWidth: 49, yPad: 5
});
</script>
</body>
</html>
